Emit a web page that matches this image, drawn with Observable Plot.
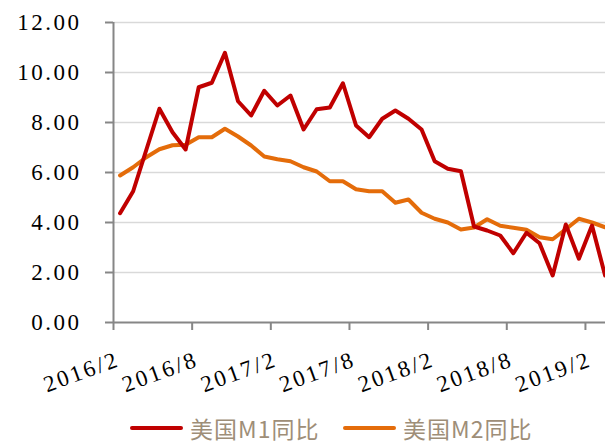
<!DOCTYPE html>
<html><head><meta charset="utf-8">
<script src="https://cdn.jsdelivr.net/npm/d3@7"></script>
<script src="https://cdn.jsdelivr.net/npm/@observablehq/plot@0.6"></script>
<style>
body{margin:0;background:#fff;width:605px;height:446px;overflow:hidden;}
#legend{position:relative;height:36px;font-family:"Noto Sans CJK SC",sans-serif;font-size:23px;color:#9E8E78;letter-spacing:1px;}
.item{position:absolute;top:0;display:flex;align-items:center;height:36px;}
.sw{width:53px;height:4px;border-radius:2px;margin-right:7px;}
svg text{font-family:"Liberation Serif","DejaVu Serif",serif !important;}
</style></head><body>
<div id="chart"></div>
<div id="legend"></div>
<script>
const months = ["2016/2","2016/3","2016/4","2016/5","2016/6","2016/7","2016/8","2016/9","2016/10","2016/11","2016/12","2017/1",
"2017/2","2017/3","2017/4","2017/5","2017/6","2017/7","2017/8","2017/9","2017/10","2017/11","2017/12","2018/1",
"2018/2","2018/3","2018/4","2018/5","2018/6","2018/7","2018/8","2018/9","2018/10","2018/11","2018/12","2019/1",
"2019/2","2019/3"];
const m1 = [4.37,5.25,6.90,8.55,7.61,6.92,9.41,9.59,10.79,8.85,8.28,9.27,8.68,9.08,7.72,8.53,8.60,9.57,7.88,7.41,
8.15,8.48,8.15,7.72,6.45,6.15,6.05,3.84,3.68,3.48,2.77,3.59,3.17,1.88,3.92,2.55,3.88,1.88];
const m2 = [5.88,6.21,6.61,6.93,7.09,7.11,7.41,7.41,7.75,7.44,7.08,6.64,6.53,6.45,6.21,6.04,5.65,5.65,5.33,5.25,
5.25,4.79,4.92,4.39,4.15,4.00,3.72,3.80,4.13,3.87,3.79,3.71,3.41,3.33,3.73,4.15,4.00,3.81];
const seriesNames = ["美国M1同比","美国M2同比"];
const seriesColors = ["#C00000","#E46C0A"];
const tickLabels = ["2016/2","2016/8","2017/2","2017/8","2018/2","2018/8","2019/2"];
const yTicks = [0,2,4,6,8,10,12];

const data = months.map((m,i)=>({i, x:i+0.5, m1:m1[i], m2:m2[i]}));
const tickIdx = tickLabels.map(t=>months.indexOf(t));

const axisColor = "#868686";
const chart = Plot.plot({
  width:605, height:410,
  marginLeft:113, marginRight:0, marginTop:22, marginBottom:88,
  x:{type:"linear", domain:[0,37.53]},
  y:{domain:[0,12]},
  style:{background:"#fff", overflow:"visible"},
  marks:[
    Plot.gridY(yTicks.filter(d=>d>0), {stroke:"#D9D9D9", strokeOpacity:1, strokeWidth:1.6}),
    Plot.line(data,{x:"x", y:"m2", stroke:seriesColors[1], strokeWidth:4, strokeLinejoin:"round"}),
    Plot.line(data,{x:"x", y:"m1", stroke:seriesColors[0], strokeWidth:4, strokeLinejoin:"round"}),
    Plot.ruleY([0], {stroke:axisColor, strokeWidth:2}),
    Plot.ruleX([0], {stroke:axisColor, strokeWidth:2}),
    Plot.axisY(yTicks, {tickSize:8, tickPadding:24, stroke:axisColor, strokeWidth:2, tickFormat:d=>d.toFixed(2), fill:"#000", label:null, fontSize:23}),
    Plot.axisX(tickIdx, {tickSize:8, text:null, stroke:axisColor, strokeWidth:2, label:null}),
    Plot.axisX(tickIdx, {tickSize:0, tickPadding:36, tickRotate:-20, dx:5, tickFormat:i=>months[i], fill:"#000", label:null, fontSize:23})
  ]
});
document.getElementById("chart").appendChild(chart);
chart.querySelectorAll("text").forEach(t=>{t.style.letterSpacing = "2.5px"; t.style.fontSize="23px";});

const lg = document.getElementById("legend");
const lefts = [130, 343];
seriesNames.forEach((n,k)=>{
  const it = document.createElement("div");
  it.className="item"; it.style.left = lefts[k]+"px";
  it.innerHTML = `<div class="sw" style="background:${seriesColors[k]}"></div><span>${n}</span>`;
  lg.appendChild(it);
});
</script>
</body></html>
